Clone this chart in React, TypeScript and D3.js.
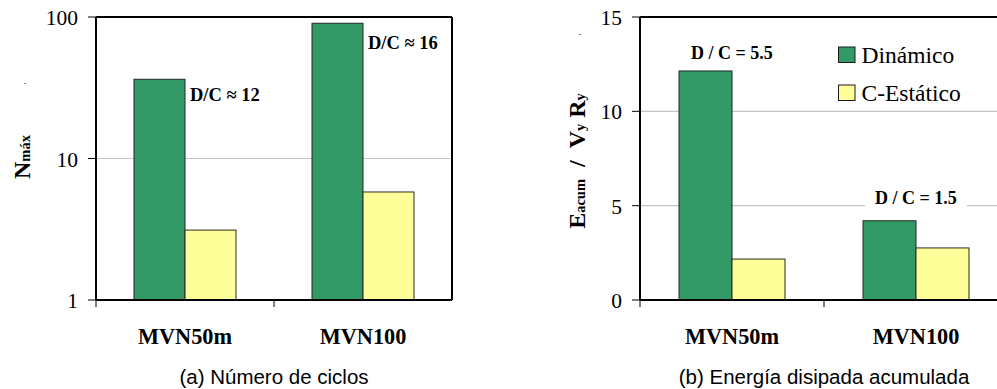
import React from "react";
import * as d3 from "d3";

const categories = ["MVN50m", "MVN100"];
const ciclosDinamico = [36.3, 90.3];
const ciclosEstatico = [3.12, 5.8];
const ciclosTicks = [1, 10, 100];
const ciclosRatios = ["D/C \u2248 12", "D/C \u2248 16"];

const energiaDinamico = [12.14, 4.2];
const energiaEstatico = [2.17, 2.76];
const energiaTicks = [0, 5, 10, 15];
const energiaRatios = ["D / C = 5.5", "D / C = 1.5"];

const seriesNames = ["Din\u00e1mico", "C-Est\u00e1tico"];
const colors = ["#339966", "#FFFF99"];

const SERIF = "Liberation Serif, DejaVu Serif, serif";
const SANS = "Liberation Sans, Arial, sans-serif";

const TOP = 17;
const BOTTOM = 300;

function Bars({ x, y, dyn, est, base }: any) {
  const inner = d3.scaleBand().domain(["d", "e"]).range([0, x.bandwidth()]);
  return (
    <g>
      {categories.map((c, i) => (
        <g key={c}>
          <rect
            x={x(c)! + inner("d")!}
            y={y(dyn[i])}
            width={inner.bandwidth()}
            height={base - y(dyn[i])}
            fill={colors[0]}
            stroke="#1f2a22"
            strokeWidth={1}
          />
          <rect
            x={x(c)! + inner("e")!}
            y={y(est[i])}
            width={inner.bandwidth()}
            height={base - y(est[i])}
            fill={colors[1]}
            stroke="#2a2a1a"
            strokeWidth={1}
          />
        </g>
      ))}
    </g>
  );
}

function Frame({ x0, x1, ticksY, y, fmt, grid, showRight }: any) {
  const mid = (x0 + x1) / 2;
  return (
    <g>
      {grid.map((t: number) => (
        <line key={"g" + t} x1={x0} x2={x1} y1={y(t)} y2={y(t)} stroke="#c4c4c4" strokeWidth={1.2} />
      ))}
      {ticksY.map((t: number) => (
        <g key={"t" + t}>
          <line x1={x0 - 8} x2={x0} y1={y(t)} y2={y(t)} stroke="#000" strokeWidth={1} />
          <text
            x={x0 - 18}
            y={y(t) + 8}
            textAnchor="end"
            style={{ fontFamily: SERIF }}
            fontSize={21.5}
            fill="#000"
          >
            {fmt(t)}
          </text>
        </g>
      ))}
      <line x1={x0} x2={x0} y1={BOTTOM + 7} y2={BOTTOM} stroke="#000" strokeWidth={1} />
      <line x1={mid} x2={mid} y1={BOTTOM + 7} y2={BOTTOM} stroke="#000" strokeWidth={1} />
      <line x1={x0} x2={x1} y1={TOP} y2={TOP} stroke="#000" strokeWidth={2} />
      {showRight && <line x1={x1} x2={x1} y1={TOP} y2={BOTTOM} stroke="#000" strokeWidth={2} />}
    </g>
  );
}

export default function App() {
  // Left chart
  const lx0 = 96, lx1 = 452;
  const xl = d3.scaleBand().domain(categories).range([lx0, lx1]).paddingInner(0.427).paddingOuter(0.2135);
  const yl = d3.scaleLog().domain([1, 100]).range([BOTTOM, TOP]);

  // Right chart
  const rx0 = 640, rx1 = 1008;
  const xr = d3.scaleBand().domain(categories).range([rx0, rx1]).paddingInner(0.424).paddingOuter(0.212);
  const yr = d3.scaleLinear().domain([0, 15]).range([BOTTOM, TOP]);

  const ratioOffsetsL = [22, 26];
  const ratioOffsetsR = [12, 17];

  return (
    <svg
      width={997}
      height={389}
      style={{ position: "absolute", left: 0, top: 0, background: "#fff" }}
    >
      <rect x={0} y={0} width={997} height={389} fill="#fff" />

      {/* ---------- Left: Número de ciclos ---------- */}
      <Frame x0={lx0} x1={lx1} ticksY={ciclosTicks} y={yl} fmt={(t: number) => String(t)} grid={[10]} showRight />
      <Bars x={xl} y={yl} dyn={ciclosDinamico} est={ciclosEstatico} base={BOTTOM} />
      <line x1={lx0} x2={lx0} y1={TOP} y2={BOTTOM} stroke="#000" strokeWidth={2} />
      <line x1={lx0} x2={lx1} y1={BOTTOM} y2={BOTTOM} stroke="#000" strokeWidth={2} />
      {categories.map((c, i) => (
        <text
          key={"rl" + c}
          x={xl(c)! + xl.bandwidth() / 2 + 5}
          y={yl(ciclosDinamico[i]) + ratioOffsetsL[i]}
          style={{ fontFamily: SERIF }}
          fontWeight="bold"
          fontSize={18.5}
          fill="#000"
        >
          {ciclosRatios[i]}
        </text>
      ))}
      {categories.map((c) => (
        <text
          key={"cl" + c}
          x={xl(c)! + xl.bandwidth() / 2}
          y={344}
          textAnchor="middle"
          style={{ fontFamily: SERIF }}
          fontWeight="bold"
          fontSize={22.3}
          fill="#000"
        >
          {c}
        </text>
      ))}
      <text transform={`translate(30,157) rotate(-90)`} textAnchor="middle" style={{ fontFamily: SERIF }} fontWeight="bold" fill="#000">
        <tspan fontSize={24}>N</tspan>
        <tspan fontSize={14.5}>máx</tspan>
      </text>
      <text x={25} y={84} style={{ fontFamily: SERIF }} fontSize={10} textAnchor="middle" fill="#000">.</text>
      <text x={(lx0 + lx1) / 2} y={384} textAnchor="middle" style={{ fontFamily: SANS }} fontSize={20.5} fill="#000">
        (a) Número de ciclos
      </text>

      {/* ---------- Right: Energía disipada acumulada ---------- */}
      <Frame x0={rx0} x1={rx1} ticksY={energiaTicks} y={yr} fmt={(t: number) => String(t)} grid={[5, 10]} showRight={false} />
      {categories.map((c, i) => {
        const cx = xr(c)! + xr.bandwidth() / 2;
        const by = yr(energiaDinamico[i]) - ratioOffsetsR[i];
        return (
          <g key={"rr" + c}>
            {i === 1 && <rect x={cx - 51} y={by - 16} width={102} height={22} fill="#fff" />}
            <text x={cx} y={by} textAnchor="middle" style={{ fontFamily: SERIF }} fontWeight="bold" fontSize={18} fill="#000">
              {energiaRatios[i]}
            </text>
          </g>
        );
      })}
      <Bars x={xr} y={yr} dyn={energiaDinamico} est={energiaEstatico} base={BOTTOM} />
      <line x1={rx0} x2={rx0} y1={TOP} y2={BOTTOM} stroke="#000" strokeWidth={2} />
      <line x1={rx0} x2={rx1} y1={BOTTOM} y2={BOTTOM} stroke="#000" strokeWidth={2} />
      {categories.map((c) => (
        <text
          key={"cr" + c}
          x={xr(c)! + xr.bandwidth() / 2}
          y={344}
          textAnchor="middle"
          style={{ fontFamily: SERIF }}
          fontWeight="bold"
          fontSize={22.3}
          fill="#000"
        >
          {c}
        </text>
      ))}
      <text transform={`translate(585,161) rotate(-90)`} textAnchor="middle" style={{ fontFamily: SERIF }} fontWeight="bold" fill="#000">
        <tspan fontSize={24}>E</tspan>
        <tspan fontSize={14.5}>acum</tspan>
        <tspan fontSize={24} xmlSpace="preserve">{"\u00a0\u00a0/\u00a0\u00a0V"}</tspan>
        <tspan fontSize={14.5}>y</tspan>
        <tspan fontSize={24}>{"\u00a0R"}</tspan>
        <tspan fontSize={14.5}>y</tspan>
      </text>
      <text x={580} y={35} style={{ fontFamily: SERIF }} fontSize={10} textAnchor="middle" fill="#000">.</text>

      {/* Legend */}
      {seriesNames.map((s, i) => (
        <g key={s} transform={`translate(838.5,${47 + i * 38})`}>
          <rect x={0} y={0} width={16.5} height={15.5} fill={colors[i]} stroke="#1a1a1a" strokeWidth={1} />
          <text x={23} y={16} style={{ fontFamily: SERIF }} fontSize={23.5} fill="#000">
            {s}
          </text>
        </g>
      ))}

      <text x={(rx0 + rx1) / 2} y={384} textAnchor="middle" style={{ fontFamily: SANS }} fontSize={20.5} fill="#000">
        (b) Energía disipada acumulada
      </text>
    </svg>
  );
}
